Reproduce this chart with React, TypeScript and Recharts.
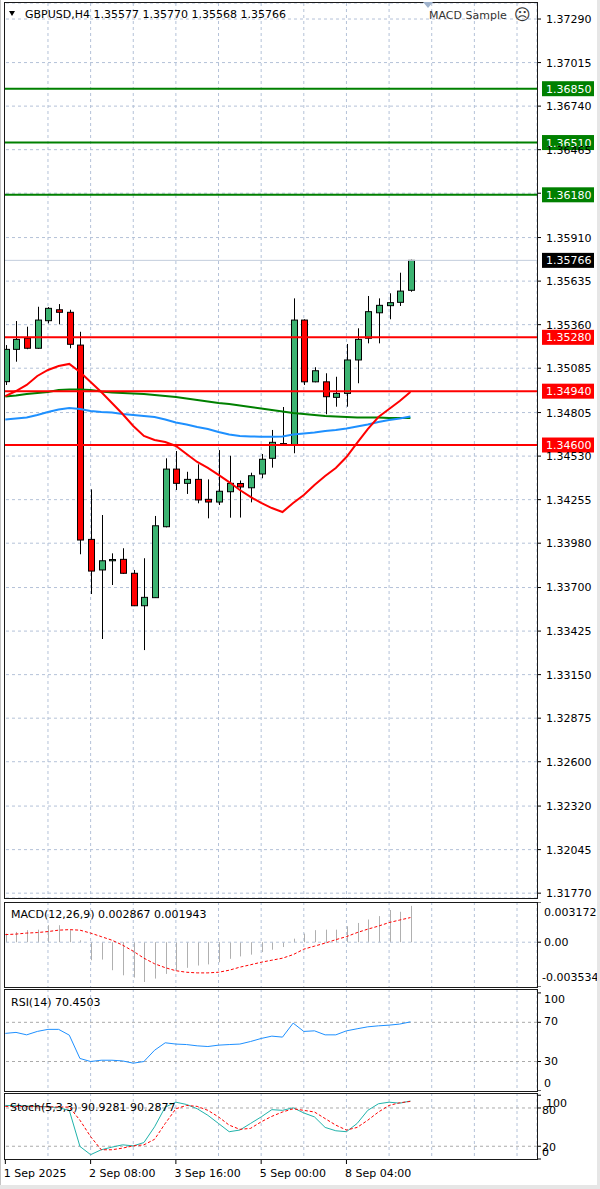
import React from 'react';
import { ComposedChart, Bar, Line, XAxis, YAxis, CartesianGrid, ReferenceLine } from 'recharts';

const FONT = '"DejaVu Sans", Verdana, sans-serif';
const GRID = '#b4c2d8';
const LEVEL = '#aaaaaa';

// ---- categories (H4 bars; trailing empty slots = chart shift) ----
const times = [
  '1 Sep 00:00', '1 Sep 04:00', '1 Sep 08:00', '1 Sep 12:00', '1 Sep 16:00', '1 Sep 20:00',
  '2 Sep 00:00', '2 Sep 04:00', '2 Sep 08:00', '2 Sep 12:00', '2 Sep 16:00', '2 Sep 20:00',
  '3 Sep 00:00', '3 Sep 04:00', '3 Sep 08:00', '3 Sep 12:00', '3 Sep 16:00', '3 Sep 20:00',
  '4 Sep 00:00', '4 Sep 04:00', '4 Sep 08:00', '4 Sep 12:00', '4 Sep 16:00', '4 Sep 20:00',
  '5 Sep 00:00', '5 Sep 04:00', '5 Sep 08:00', '5 Sep 12:00', '5 Sep 16:00', '5 Sep 20:00',
  '7 Sep 20:00',
  '8 Sep 00:00', '8 Sep 04:00', '8 Sep 08:00', '8 Sep 12:00', '8 Sep 16:00', '8 Sep 20:00',
  '9 Sep 00:00', '9 Sep 04:00', '9 Sep 08:00', '9 Sep 12:00', '9 Sep 16:00', '9 Sep 20:00',
  '10 Sep 00:00', '10 Sep 04:00', '10 Sep 08:00', '10 Sep 12:00', '10 Sep 16:00', '10 Sep 20:00',
  '11 Sep 00:00',
];
const gridTimes = [
  '1 Sep 16:00', '2 Sep 08:00', '3 Sep 00:00', '3 Sep 16:00', '4 Sep 08:00', '5 Sep 00:00',
  '5 Sep 16:00', '8 Sep 04:00', '8 Sep 20:00', '9 Sep 12:00', '10 Sep 04:00', '10 Sep 20:00',
];
const timeTicks = ['1 Sep 00:00', '2 Sep 08:00', '3 Sep 16:00', '5 Sep 00:00', '8 Sep 04:00'];
const timeTickLabels = ['1 Sep 2025', '2 Sep 08:00', '3 Sep 16:00', '5 Sep 00:00', '8 Sep 04:00'];

// ---- OHLC ----
const open = [1.35000, 1.35204, 1.35274, 1.35211, 1.35385, 1.35454, 1.35438, 1.35231, 1.34004, 1.33811, 1.33869, 1.33878, 1.33790, 1.33585, 1.33636, 1.34084, 1.34448, 1.34358, 1.34383, 1.34257, 1.34240, 1.34305, 1.34357, 1.34330, 1.34417, 1.34516, 1.34609, 1.34600, 1.35389, 1.34999, 1.34999, 1.34901, 1.34926, 1.35137, 1.35274, 1.35435, 1.35480, 1.35501, 1.35577];
const high = [1.35231, 1.35383, 1.35347, 1.35473, 1.35471, 1.35490, 1.35454, 1.35315, 1.34320, 1.34158, 1.33916, 1.33948, 1.33811, 1.33885, 1.34152, 1.34516, 1.34562, 1.34431, 1.34478, 1.34383, 1.34568, 1.34532, 1.34376, 1.34425, 1.34543, 1.34695, 1.34840, 1.35526, 1.35394, 1.35091, 1.35053, 1.35031, 1.35238, 1.35337, 1.35541, 1.35526, 1.35558, 1.35688, 1.35770];
const low = [1.34979, 1.35126, 1.35205, 1.35207, 1.35368, 1.35362, 1.35211, 1.33910, 1.33659, 1.33375, 1.33716, 1.33786, 1.33583, 1.33305, 1.33634, 1.34080, 1.34316, 1.34291, 1.34232, 1.34137, 1.34221, 1.34141, 1.34142, 1.34238, 1.34390, 1.34457, 1.34594, 1.34548, 1.34979, 1.34996, 1.34794, 1.34842, 1.34842, 1.34990, 1.35242, 1.35242, 1.35394, 1.35478, 1.35568];
const close = [1.35204, 1.35267, 1.35211, 1.35389, 1.35463, 1.35438, 1.35236, 1.34000, 1.33804, 1.33869, 1.33877, 1.33790, 1.33585, 1.33638, 1.34090, 1.34448, 1.34358, 1.34383, 1.34253, 1.34240, 1.34308, 1.34358, 1.34335, 1.34406, 1.34510, 1.34617, 1.34603, 1.35389, 1.34999, 1.35069, 1.34905, 1.34926, 1.35137, 1.35267, 1.35442, 1.35482, 1.35499, 1.35572, 1.35766];

// ---- moving averages ----
const maRed = [1.34909, 1.34941, 1.34979, 1.35036, 1.35074, 1.35099, 1.35112, 1.35061, 1.34998, 1.34935, 1.34865, 1.34796, 1.34720, 1.34657, 1.34632, 1.34619, 1.34594, 1.34543, 1.34493, 1.34455, 1.34411, 1.34366, 1.34316, 1.34272, 1.34234, 1.34202, 1.34177, 1.34234, 1.34284, 1.34347, 1.34404, 1.34455, 1.34524, 1.34613, 1.34701, 1.34777, 1.34827, 1.34878, 1.34935];
const maGreen = [1.34906, 1.34913, 1.34922, 1.34928, 1.34935, 1.34947, 1.34950, 1.34950, 1.34947, 1.34938, 1.34931, 1.34928, 1.34925, 1.34922, 1.34916, 1.34909, 1.34903, 1.34894, 1.34884, 1.34875, 1.34865, 1.34859, 1.34849, 1.34840, 1.34830, 1.34821, 1.34812, 1.34802, 1.34796, 1.34789, 1.34783, 1.34780, 1.34777, 1.34774, 1.34774, 1.34774, 1.34771, 1.34771, 1.34771];
const maBlue = [1.34761, 1.34767, 1.34774, 1.34789, 1.34808, 1.34824, 1.34834, 1.34827, 1.34815, 1.34808, 1.34805, 1.34796, 1.34789, 1.34783, 1.34777, 1.34761, 1.34742, 1.34729, 1.34714, 1.34701, 1.34682, 1.34666, 1.34657, 1.34654, 1.34652, 1.34652, 1.34654, 1.34666, 1.34673, 1.34679, 1.34688, 1.34695, 1.34704, 1.34717, 1.34729, 1.34745, 1.34758, 1.34767, 1.34780];

// ---- indicators ----
const macdMain = [0.00068, 0.00081, 0.00095, 0.00099, 0.00134, 0.00134, 0.00095, 0.00015, -0.00142, -0.00137, -0.00221, -0.00261, -0.00279, -0.00314, -0.00287, -0.00250, -0.00224, -0.00202, -0.00184, -0.00175, -0.00158, -0.00131, -0.00112, -0.00098, -0.00078, -0.00059, -0.00038, 0.00028, 0.00068, 0.00095, 0.00099, 0.00099, 0.00126, 0.00152, 0.00179, 0.00206, 0.00254, 0.00240, 0.002867];
const macdSignal = [0.00060, 0.00064, 0.00072, 0.00076, 0.00084, 0.00095, 0.00099, 0.00095, 0.00072, 0.00044, 0.00016, -0.00023, -0.00071, -0.00126, -0.00170, -0.00201, -0.00225, -0.00237, -0.00242, -0.00242, -0.00237, -0.00221, -0.00197, -0.00178, -0.00158, -0.00142, -0.00126, -0.00098, -0.00055, -0.00031, -0.00007, 0.00020, 0.00044, 0.00076, 0.00103, 0.00127, 0.00155, 0.00175, 0.001943];
const rsi = [58.7, 59.7, 57.2, 60.7, 62.8, 62.8, 56.9, 33.1, 30.0, 31.3, 31.3, 30.6, 28.3, 30.0, 41.5, 49.1, 47.8, 47.3, 46.0, 45.3, 46.7, 47.3, 47.8, 50.4, 53.5, 55.9, 54.9, 69.2, 60.7, 61.3, 57.2, 57.2, 61.3, 63.4, 65.4, 66.4, 67.1, 68.2, 70.45];
const stochK = [84.0, 83.5, 83.0, 82.5, 82.0, 80.5, 76.3, 19.7, 6.8, 14.5, 18.6, 22.2, 20.6, 25.8, 50.5, 81.4, 89.1, 85.5, 78.8, 68.5, 55.7, 42.8, 45.4, 55.7, 66.0, 77.4, 76.3, 80.3, 72.2, 66.0, 49.5, 44.3, 42.8, 55.7, 76.3, 86.6, 89.1, 87.5, 90.93];
const stochD = [82.5, 82.5, 82.3, 82.0, 81.8, 81.5, 81.4, 60.8, 35.1, 14.5, 14.5, 17.1, 20.6, 22.2, 30.9, 55.7, 78.8, 84.0, 82.5, 76.3, 66.0, 53.1, 46.5, 48.0, 58.3, 66.9, 73.7, 78.8, 76.3, 73.7, 63.4, 53.1, 45.4, 49.5, 60.8, 73.7, 84.0, 88.2, 90.29];

// ---- axes / levels ----
const priceTicks = [1.3729, 1.37015, 1.3674, 1.36465, 1.3619, 1.3591, 1.35635, 1.3536, 1.35085, 1.34805, 1.3453, 1.34255, 1.3398, 1.337, 1.33425, 1.3315, 1.32875, 1.326, 1.3232, 1.32045, 1.3177];
const hiddenPriceTicks = [1.3619];
const priceDomain = [1.317395, 1.373912];
const greenLevels = [1.3685, 1.3651, 1.3618];
const redLevels = [1.3528, 1.3494, 1.346];
const lastPrice = 1.35766;

const macdTicks = [0.003172, 0, -0.003534];
const macdTickLabels = ['0.003172', '0.00', '-0.003534'];
const rsiTicks = [100, 70, 30, 0];
const rsiLevels = [70, 30];
const stochTicks = [100, 80, 20, 0];
const stochLevels = [80, 20];

const rows = times.map((t, i) => ({
  t,
  o: open[i], h: high[i], l: low[i], c: close[i],
  red: maRed[i], green: maGreen[i], blue: maBlue[i],
  macd: macdMain[i], sig: macdSignal[i],
  rsi: rsi[i], k: stochK[i], d: stochD[i],
}));

const candleRange = (d: any) => (d.h == null ? null : [d.l, d.h]);

function Candle(props: any) {
  const { x, y, width, height, payload } = props;
  if (!payload || payload.h == null || y == null || isNaN(y)) return null;
  const top = Math.min(y, y + height);
  const span = Math.abs(height);
  const range = payload.h - payload.l;
  const k = range > 0 ? span / range : 0;
  const py = (v: number) => top + (payload.h - v) * k;
  const cx = Math.round(x + width / 2);
  const up = payload.c >= payload.o;
  const bTop = py(Math.max(payload.o, payload.c));
  const bBot = py(Math.min(payload.o, payload.c));
  return (
    <g>
      <line x1={cx + 0.5} x2={cx + 0.5} y1={top} y2={top + span} stroke="#000" strokeWidth={1} />
      <rect x={cx - 2.5} y={bTop} width={6} height={Math.max(bBot - bTop, 0.4)} fill={up ? '#3cb371' : '#ff0000'} stroke="#000" strokeWidth={1} />
    </g>
  );
}

function HistBar(props: any) {
  const { x, y, width, height } = props;
  if (y == null || isNaN(y) || height == null) return null;
  const top = Math.min(y, y + height);
  const h = Math.abs(height);
  const cx = Math.round(x + width / 2);
  return <rect x={cx} y={top} width={1} height={Math.max(h, 0.5)} fill="#b0b0b0" />;
}

function PriceTag(props: any) {
  const { viewBox, text, bg } = props;
  if (!viewBox) return null;
  const x = viewBox.x + viewBox.width + 5;
  const y = viewBox.y;
  return (
    <g>
      <rect x={x} y={y - 7.5} width={52} height={15} fill={bg} />
      <text x={x + 4} y={y} dy="0.36em" fill="#fff" fontSize={11} fontFamily={FONT}>{text}</text>
    </g>
  );
}

const makeTick = (fmt: (v: number) => string, adj: Record<string, number[]>) => (props: any) => {
  const { x, y, payload } = props;
  const label = fmt(payload.value);
  if (!label) return <g />;
  const a = adj[label] || [0, 0];
  return (
    <text x={x + a[0]} y={y + a[1]} dy="0.36em" textAnchor="start" fill="#000" fontSize={11} fontFamily={FONT}>
      {label}
    </text>
  );
};

const priceTick = makeTick(
  (v) => (hiddenPriceTicks.some((h) => Math.abs(h - v) < 1e-7) ? '' : v.toFixed(5)),
  {}
);
const macdTick = makeTick(
  (v) => macdTickLabels[macdTicks.findIndex((m) => Math.abs(m - v) < 1e-9)] || '',
  { '0.003172': [-2, 10], '0.00': [-2, 0], '-0.003534': [-4, -10] }
);
const rsiTick = makeTick((v) => String(v), { '100': [-2, 6], '70': [-2, -1], '30': [-2, 0], '0': [-2, -8] });
const stochTick = makeTick((v) => String(v), { '100': [0, 8], '80': [-4, 2], '20': [-4, 1], '0': [-4, -7] });

function TimeTick(props: any) {
  const { x, y, payload } = props;
  const idx = timeTicks.indexOf(payload.value);
  if (idx < 0) return <g />;
  return (
    <text x={x - 1.5} y={y + 11} fill="#000" fontSize={11} fontFamily={FONT}>
      {timeTickLabels[idx]}
    </text>
  );
}

const xPad = { left: 0, right: 4 };
const BAND = 10.66;

const yAxisCommon = {
  orientation: 'right' as const,
  width: 63,
  interval: 0 as const,
  tickSize: 4,
  tickMargin: 5,
  axisLine: false,
  tickLine: { stroke: '#000' },
  allowDataOverflow: true,
};

export default function App() {
  return (
    <div style={{ position: 'absolute', left: 0, top: 0, width: 600, height: 1189, background: '#fff', overflow: 'hidden', fontFamily: FONT }}>
      {/* main price pane */}
      <div style={{ position: 'absolute', left: 0, top: 0 }}>
        <ComposedChart width={600} height={900} data={rows} margin={{ top: 3, right: 0, bottom: 2, left: 0 }}>
          <CartesianGrid stroke={GRID} strokeDasharray="3 3" />
          <XAxis dataKey="t" type="category" scale="band" hide height={0} ticks={gridTimes} interval={0} padding={xPad} />
          <YAxis {...yAxisCommon} domain={priceDomain} ticks={priceTicks} tick={priceTick} />
          <Line dataKey="green" stroke="#008000" strokeWidth={2} dot={false} isAnimationActive={false} />
          <Line dataKey="blue" stroke="#1e90ff" strokeWidth={2} dot={false} isAnimationActive={false} />
          <Line dataKey="red" stroke="#ff0000" strokeWidth={2} dot={false} isAnimationActive={false} />
          <Bar dataKey={candleRange} barSize={BAND} shape={<Candle />} isAnimationActive={false} />
          <ReferenceLine
            y={lastPrice}
            stroke="#c3cedd"
            strokeWidth={1}
            label={(p: any) => <PriceTag {...p} text={lastPrice.toFixed(5)} bg="#000" />}
          />
          {greenLevels.map((v) => (
            <ReferenceLine
              key={'g' + v}
              y={v}
              stroke="#008000"
              strokeWidth={2}
              label={(p: any) => <PriceTag {...p} text={v.toFixed(5)} bg="#008000" />}
            />
          ))}
          {redLevels.map((v) => (
            <ReferenceLine
              key={'r' + v}
              y={v}
              stroke="#ff0000"
              strokeWidth={2}
              label={(p: any) => <PriceTag {...p} text={v.toFixed(5)} bg="#ff0000" />}
            />
          ))}
        </ComposedChart>
      </div>

      {/* MACD pane */}
      <div style={{ position: 'absolute', left: 0, top: 902 }}>
        <ComposedChart width={600} height={85} data={rows} margin={{ top: 0, right: 0, bottom: 0, left: 0 }}>
          <CartesianGrid stroke={GRID} strokeDasharray="3 3" horizontal={false} />
          <XAxis dataKey="t" type="category" scale="band" hide height={0} ticks={gridTimes} interval={0} padding={xPad} />
          <YAxis {...yAxisCommon} domain={[-0.003534, 0.003172]} ticks={macdTicks} tick={macdTick} />
          <ReferenceLine y={0} stroke={GRID} strokeDasharray="3 3" />
          <Bar dataKey="macd" barSize={BAND} shape={<HistBar />} isAnimationActive={false} />
          <Line dataKey="sig" stroke="#ff0000" strokeWidth={1} strokeDasharray="3 2" dot={false} isAnimationActive={false} />
        </ComposedChart>
      </div>

      {/* RSI pane */}
      <div style={{ position: 'absolute', left: 0, top: 989 }}>
        <ComposedChart width={600} height={102} data={rows} margin={{ top: 0, right: 0, bottom: 0, left: 0 }}>
          <CartesianGrid stroke={GRID} strokeDasharray="3 3" horizontal={false} />
          <XAxis dataKey="t" type="category" scale="band" hide height={0} ticks={gridTimes} interval={0} padding={xPad} />
          <YAxis {...yAxisCommon} domain={[-0.1, 104]} ticks={rsiTicks} tick={rsiTick} />
          {rsiLevels.map((v) => (
            <ReferenceLine key={'rl' + v} y={v} stroke={LEVEL} strokeDasharray="3 3" />
          ))}
          <Line dataKey="rsi" stroke="#1e90ff" strokeWidth={1} dot={false} isAnimationActive={false} />
        </ComposedChart>
      </div>

      {/* Stochastic pane + time axis */}
      <div style={{ position: 'absolute', left: 0, top: 1093 }}>
        <ComposedChart width={600} height={96} data={rows} margin={{ top: 0, right: 0, bottom: 0, left: 0 }}>
          <CartesianGrid stroke={GRID} strokeDasharray="3 3" horizontal={false} />
          <XAxis
            xAxisId="time"
            dataKey="t"
            type="category"
            scale="band"
            ticks={timeTicks}
            interval={0}
            padding={xPad}
            height={30}
            tickSize={5}
            tickMargin={2}
            axisLine={false}
            tickLine={{ stroke: '#000' }}
            tick={TimeTick}
          />
          <XAxis dataKey="t" type="category" scale="band" hide height={0} ticks={gridTimes} interval={0} padding={xPad} />
          <YAxis {...yAxisCommon} domain={[0, 103.5]} ticks={stochTicks} tick={stochTick} />
          {stochLevels.map((v) => (
            <ReferenceLine key={'sl' + v} y={v} stroke={LEVEL} strokeDasharray="3 3" />
          ))}
          <Line dataKey="k" stroke="#20b2aa" strokeWidth={1} dot={false} isAnimationActive={false} />
          <Line dataKey="d" stroke="#ff0000" strokeWidth={1} strokeDasharray="3 2" dot={false} isAnimationActive={false} />
        </ComposedChart>
      </div>

      {/* left cover (hides the part of the first bar outside the frame) */}
      <div style={{ position: 'absolute', left: 0, top: 0, width: 4, height: 1160, background: '#fff' }} />

      {/* pane frames */}
      <div style={{ position: 'absolute', left: 4, top: 2, width: 534, height: 897, border: '1px solid #1a1a1a', boxSizing: 'border-box' }} />
      <div style={{ position: 'absolute', left: 4, top: 902, width: 534, height: 86, border: '1px solid #1a1a1a', boxSizing: 'border-box' }} />
      <div style={{ position: 'absolute', left: 4, top: 989, width: 534, height: 103, border: '1px solid #1a1a1a', boxSizing: 'border-box' }} />
      <div style={{ position: 'absolute', left: 4, top: 1093, width: 534, height: 67, border: '1px solid #1a1a1a', boxSizing: 'border-box' }} />

      {/* window frame */}
      <div style={{ position: 'absolute', left: 0, top: 0, width: 1, height: 1189, background: '#c4c4c4' }} />
      <div style={{ position: 'absolute', left: 597, top: 0, width: 3, height: 1189, background: '#e6e6e6' }} />
      <div style={{ position: 'absolute', left: 0, top: 1185, width: 600, height: 4, background: '#e6e6e6' }} />

      {/* titles */}
      <svg width={600} height={1189} style={{ position: 'absolute', left: 0, top: 0, pointerEvents: 'none' }}>
        <polygon points="9,11 15,11 12,16" fill="#000" />
        <text x={25} y={17.5} fontSize={11} fontFamily={FONT} fill="#000">GBPUSD,H4 1.35577 1.35770 1.35568 1.35766</text>
        <polygon points="423,2 433,2 428,8" fill="#9fb2cc" />
        <text x={429} y={19} fontSize={11} fontFamily={FONT} fill="#333">MACD Sample</text>
        <text x={514} y={20} fontSize={16} fontFamily={FONT} fill="#333">☹</text>
        <text x={11} y={918} fontSize={11} fontFamily={FONT} fill="#000">MACD(12,26,9) 0.002867 0.001943</text>
        <text x={11} y={1005.5} fontSize={11} fontFamily={FONT} fill="#000">RSI(14) 70.4503</text>
        <text x={10} y={1111} fontSize={11} fontFamily={FONT} fill="#000">Stoch(5,3,3) 90.9281 90.2877</text>
      </svg>
    </div>
  );
}
